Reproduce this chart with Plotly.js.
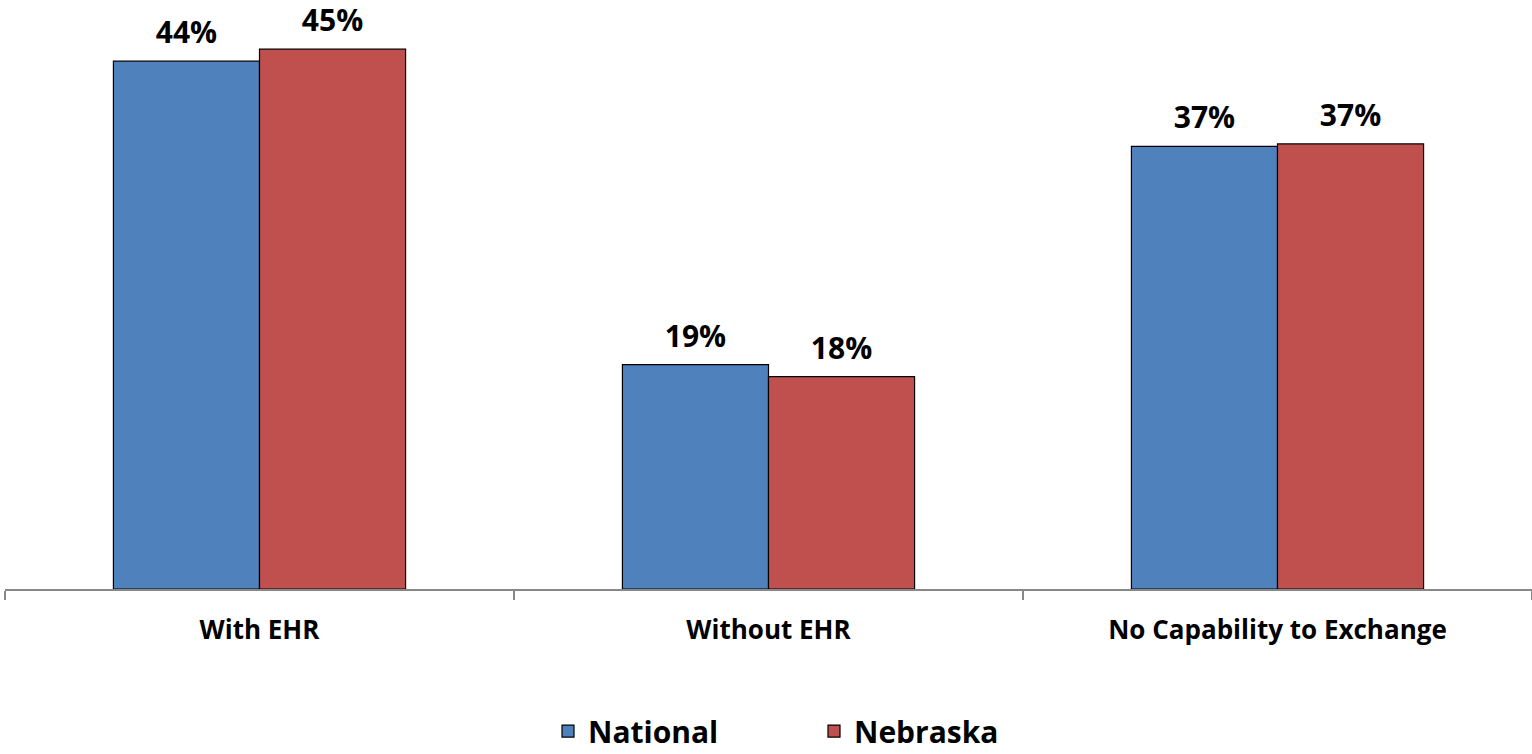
<!DOCTYPE html>
<html>
<head>
<meta charset="utf-8">
<script src="https://cdn.plot.ly/plotly-3.0.1.min.js"></script>
<style>html,body{margin:0;padding:0;background:#fff;}#chart{width:1532px;height:754px;}</style>
</head>
<body>
<div id="chart"></div>
<script>
const categories = ["With EHR", "Without EHR", "No Capability to Exchange"];
const nationalValues = [44.0, 18.7, 36.9];
const nebraskaValues = [45.0, 17.7, 37.1];
const seriesNames = ["National", "Nebraska"];

const FONT = "'Open Sans', sans-serif";
const colors = ["#4F81BD", "#C0504D"];
const seriesValues = [nationalValues, nebraskaValues];
const traces = [];
seriesValues.forEach((vals, i) => {
  traces.push({type: "bar", name: seriesNames[i], x: categories, y: vals,
    marker: {color: colors[i], line: {color: "#000", width: 1.2}}, hoverinfo: "skip"});
});
seriesValues.forEach((vals, i) => {
  traces.push({type: "scatter", mode: "markers+text", name: seriesNames[i] + " labels", showlegend: false,
    x: categories, y: vals, text: vals.map(v => Math.round(v) + "%"), textposition: "top center",
    marker: {size: 15, opacity: 0}, cliponaxis: false, hoverinfo: "skip",
    textfont: {family: FONT, size: 30, color: "#000", weight: "bold"}});
});
const layout = {
  width: 1532, height: 754,
  margin: {l: 5, r: 0, t: 0, b: 165, autoexpand: false},
  paper_bgcolor: "#fff", plot_bgcolor: "#fff",
  barmode: "group", bargap: 0.426, bargroupgap: 0,
  scattermode: "group", scattergap: 0.426,
  font: {family: FONT, color: "#000"},
  xaxis: {type: "category", tickson: "boundaries", ticks: "outside", ticklen: 9,
          tickcolor: "#888", tickwidth: 1.5, showline: true, linecolor: "#888", linewidth: 1.5,
          tickfont: {family: FONT, size: 26, color: "#000", weight: "bold"}, ticklabelstandoff: 17,
          showgrid: false, zeroline: false, automargin: false},
  yaxis: {range: [0, 49.1], visible: false, showgrid: false, zeroline: false},
  showlegend: true,
  legend: {orientation: "h", x: 0.3556, xanchor: "left", yref: "paper", y: -0.197, yanchor: "top",
           font: {family: FONT, size: 30, color: "#000", weight: "bold"}, entrywidth: 221, entrywidthmode: "pixels"}
};
Plotly.newPlot("chart", traces, layout, {displayModeBar: false});
</script>
</body>
</html>
